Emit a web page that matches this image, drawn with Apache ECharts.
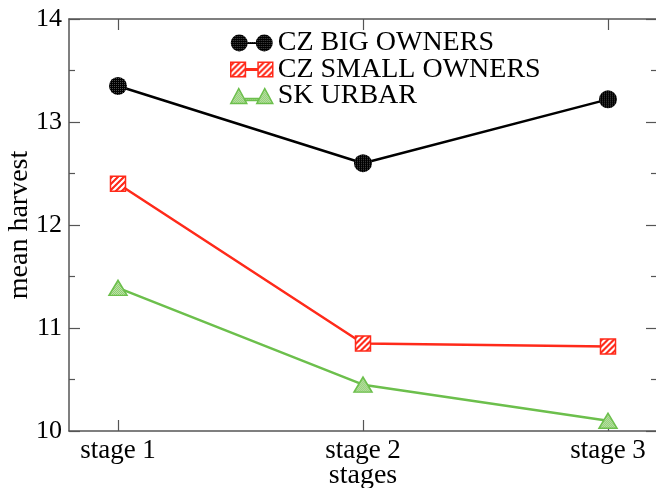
<!DOCTYPE html>
<html>
<head>
<meta charset="utf-8">
<script src="https://cdn.jsdelivr.net/npm/echarts@6/dist/echarts.min.js"></script>
<style>
  html, body { margin: 0; padding: 0; background: #fff; }
  #chart { width: 656px; height: 488px; }
</style>
</head>
<body>
<div id="chart"></div>
<script>
// Stages on the horizontal axis and mean harvest per ownership group
const categories = ['stage 1', 'stage 2', 'stage 3'];
const bigOwners = [13.35, 12.60, 13.22];
const smallOwners = [12.40, 10.85, 10.82];
const urbar = [11.39, 10.45, 10.10];
const seriesNames = ['CZ BIG OWNERS', 'CZ SMALL OWNERS', 'SK URBAR'];
const yTicks = [10, 11, 12, 13, 14];

const FONT = 'Liberation Serif';
const AXIS_GREY = '#555';
const RED = '#ff2a1a';
const GREEN = '#6cbf4c';

// Small bitmap tiles used as textured fills for the markers
function tile(size, painter) {
  const c = document.createElement('canvas');
  c.width = c.height = size;
  const g = c.getContext('2d');
  for (let y = 0; y < size; y++) {
    for (let x = 0; x < size; x++) {
      g.fillStyle = painter(x, y);
      g.fillRect(x, y, 1, 1);
    }
  }
  return c;
}
const dotBlack = tile(2, (x, y) => (x === 0 && y === 0) ? '#4a4a4a' : '#000000');
const stripeRed = tile(6, (x, y) => ((x + y) % 6 < 3) ? '#ffffff' : RED);
const dotGreen = tile(2, (x, y) => ((x + y) % 2 === 0) ? '#86c968' : '#c6e7b4');

// Series symbols are unit paths scaled up to symbolSize, so the pattern is
// shrunk by the same factor to keep one tile pixel per screen pixel.
function pattern(img, sx, sy) {
  return { image: img, repeat: 'repeat', scaleX: sx, scaleY: sy };
}

const CIRCLE = 18, SQUARE = 15, TRI = [18, 15];

const xValues = categories.map((_, i) => i + 1);
const toPairs = vals => vals.map((v, i) => [xValues[i], v]);

// Legend keys: two markers joined by a short line
const legendIcons = [
  'path://M0,9 A8.5,8.5 0 1,1 17,9 A8.5,8.5 0 1,1 0,9 Z M16,8 L26,8 L26,10 L16,10 Z M25,9 A8.5,8.5 0 1,1 42,9 A8.5,8.5 0 1,1 25,9 Z',
  'path://M1,1 L15,1 L15,15 L1,15 Z M15,7.3 L27,7.3 L27,8.7 L15,8.7 Z M27,1 L41,1 L41,15 L27,15 Z',
  'path://M0,16 L8,1 L16,16 Z M14,11 L28,11 L28,13 L14,13 Z M26,16 L34,1 L42,16 Z'
];

const chart = echarts.init(document.getElementById('chart'), null, { renderer: 'canvas' });

const xBase = {
  type: 'value', min: 0.8, max: 3.2,
  splitLine: { show: false },
  axisLine: { show: true, lineStyle: { color: AXIS_GREY, width: 1.5 } },
  axisTick: { show: true, inside: true, length: 11, customValues: xValues, lineStyle: { color: AXIS_GREY, width: 1.2 } }
};
const yBase = {
  type: 'value', min: yTicks[0], max: yTicks[yTicks.length - 1], interval: 1,
  splitLine: { show: false },
  axisLine: { show: true, lineStyle: { color: AXIS_GREY, width: 1.5 } },
  axisTick: { show: true, inside: true, length: 11, lineStyle: { color: AXIS_GREY, width: 1.2 } },
  minorTick: { show: true, splitNumber: 2, length: 6, lineStyle: { color: AXIS_GREY, width: 1.2 } }
};

chart.setOption({
  animation: false,
  backgroundColor: '#ffffff',
  textStyle: { fontFamily: FONT },
  grid: { left: 69, right: -1, top: 19, bottom: 57, outerBoundsMode: 'none' },
  legend: {
    orient: 'vertical', left: 230, top: 29, padding: 0, itemGap: -1.5,
    itemWidth: 42, itemHeight: 18, selectedMode: false,
    textStyle: { fontFamily: FONT, fontSize: 28, color: '#000', lineHeight: 25 },
    data: [
      { name: seriesNames[0], icon: legendIcons[0], itemStyle: { color: { image: dotBlack, repeat: 'repeat' }, borderWidth: 0 } },
      { name: seriesNames[1], icon: legendIcons[1], itemStyle: { color: { image: stripeRed, repeat: 'repeat' }, borderColor: RED, borderWidth: 1.5 } },
      { name: seriesNames[2], icon: legendIcons[2], itemStyle: { color: { image: dotGreen, repeat: 'repeat' }, borderColor: GREEN, borderWidth: 1.5 } }
    ]
  },
  xAxis: [
    Object.assign({}, xBase, {
      position: 'bottom', name: 'stages', nameLocation: 'middle', nameGap: 31,
      nameMoveOverlap: false,
      nameTextStyle: { fontFamily: FONT, fontSize: 28, color: '#000' },
      axisLabel: {
        show: true, margin: 6, customValues: xValues,
        fontFamily: FONT, fontSize: 27, color: '#000',
        formatter: v => categories[Math.round(v) - 1]
      }
    }),
    Object.assign({}, xBase, { position: 'top', axisLabel: { show: false } })
  ],
  yAxis: [
    Object.assign({}, yBase, {
      position: 'left', name: 'mean harvest', nameLocation: 'middle', nameGap: 35,
      nameMoveOverlap: false,
      nameTextStyle: { fontFamily: FONT, fontSize: 28, color: '#000' },
      axisLabel: { show: true, margin: 7, fontFamily: FONT, fontSize: 26, color: '#000' }
    }),
    Object.assign({}, yBase, { position: 'right', axisLabel: { show: false } })
  ],
  series: [
    { name: seriesNames[0], type: 'line', data: toPairs(bigOwners), symbol: 'circle', symbolSize: CIRCLE,
      lineStyle: { color: '#000000', width: 2.5 },
      itemStyle: { color: pattern(dotBlack, 2 / CIRCLE, 2 / CIRCLE), borderWidth: 0 },
      emphasis: { disabled: true }, z: 3 },
    { name: seriesNames[1], type: 'line', data: toPairs(smallOwners), symbol: 'rect', symbolSize: SQUARE,
      lineStyle: { color: RED, width: 2.5 },
      itemStyle: { color: pattern(stripeRed, 2 / SQUARE, 2 / SQUARE), borderColor: RED, borderWidth: 1.5 },
      emphasis: { disabled: true }, z: 3 },
    { name: seriesNames[2], type: 'line', data: toPairs(urbar), symbol: 'triangle', symbolSize: TRI,
      lineStyle: { color: GREEN, width: 2.5 },
      itemStyle: { color: pattern(dotGreen, 2 / TRI[0], 2 / TRI[1]), borderColor: GREEN, borderWidth: 1.5 },
      emphasis: { disabled: true }, z: 3 }
  ]
});
</script>
</body>
</html>
